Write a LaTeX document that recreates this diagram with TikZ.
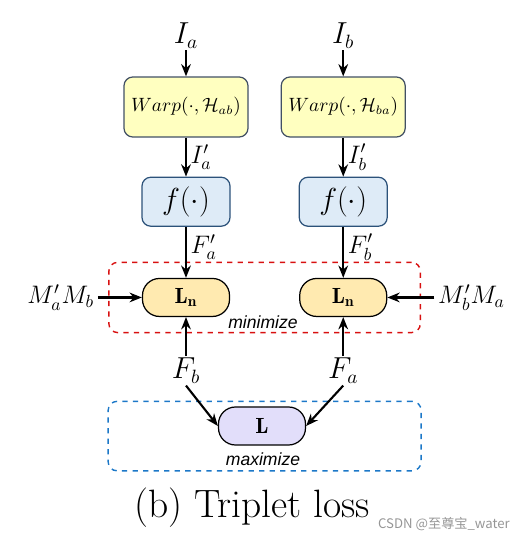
\documentclass[tikz,border=0pt]{standalone}
\usepackage{fontspec}
\usepackage{amsmath}
\usepackage{tikz}
\usetikzlibrary{arrows.meta,positioning,fit,backgrounds}
\newfontfamily\lblfont{Liberation Sans}
\newfontfamily\cjkfont{Noto Sans CJK SC}
\definecolor{warpfill}{RGB}{255,255,192}
\definecolor{warpbdr}{RGB}{66,80,100}
\definecolor{ffill}{RGB}{222,235,247}
\definecolor{fbdr}{RGB}{44,82,122}
\definecolor{lnfill}{RGB}{255,234,176}
\definecolor{lossfill}{RGB}{226,222,250}
\definecolor{minclr}{RGB}{216,16,16}
\definecolor{maxclr}{RGB}{28,120,200}
\definecolor{wmclr}{RGB}{150,150,150}
\tikzset{
  warpblk/.style={rectangle,rounded corners=5pt,draw=warpbdr,fill=warpfill,line width=0.7pt,
    minimum width=2.48cm,minimum height=1.2cm,inner sep=0pt,font=\fontsize{10.5}{12}\selectfont},
  fblk/.style={rectangle,rounded corners=5pt,draw=fbdr,fill=ffill,line width=0.7pt,
    minimum width=1.76cm,minimum height=0.98cm,inner sep=0pt,font=\fontsize{16}{19}\selectfont},
  lnblk/.style={rectangle,rounded corners=0.34cm,draw=black,fill=lnfill,line width=0.7pt,
    minimum width=1.74cm,minimum height=0.76cm,inner sep=0pt,font=\fontsize{12.5}{14}\selectfont},
  lossblk/.style={lnblk,fill=lossfill},
  mlbl/.style={inner sep=1pt,font=\fontsize{16}{19}\selectfont},
  slbl/.style={inner sep=2pt,font=\Large},
  arr/.style={-{Stealth[length=7pt,width=5.5pt]},line width=1.2pt},
  minbx/.style={rectangle,rounded corners=5pt,draw=minclr,dashed,line width=0.8pt},
  maxbx/.style={rectangle,rounded corners=5pt,draw=maxclr,dashed,line width=0.8pt},
  bxlbl/.style={font=\lblfont\itshape\fontsize{10}{12}\selectfont,inner sep=0pt},
}
\begin{document}
\begin{tikzpicture}
  \useasboundingbox (0,0) rectangle (10.5,10.9);
  \node[warpblk] (warpa) at (3.72,8.76) {$Warp(\cdot,\mathcal{H}_{ab})$};
  \node[warpblk,right=0.64cm of warpa] (warpb) {$Warp(\cdot,\mathcal{H}_{ba})$};
  \node[mlbl,above=0.52cm of warpa] (ia) {$I_a$};
  \node[mlbl,above=0.52cm of warpb] (ib) {$I_b$};
  \node[fblk,below=0.78cm of warpa] (fa) {$f(\cdot)$};
  \node[fblk,below=0.78cm of warpb] (fb) {$f(\cdot)$};
  \node[lnblk,below=1.02cm of fa] (lna) {$\mathbf{L_n}$};
  \node[lnblk,below=1.02cm of fb] (lnb) {$\mathbf{L_n}$};
  \node[slbl,left=0.88cm of lna] (mab) {$M_a'M_b$};
  \node[slbl,right=0.94cm of lnb] (mba) {$M_b'M_a$};
  \node[mlbl,below=0.78cm of lna] (featb) {$F_b$};
  \node[mlbl,below=0.78cm of lnb] (feata) {$F_a$};
  \node[lossblk] (loss) at (5.24,2.38) {$\mathbf{L}$};
  \node[bxlbl] (minlbl) at (5.26,4.46) {minimize};
  \node[bxlbl] (maxlbl) at (5.26,1.72) {maximize};
  \node[font=\fontsize{22.5}{26}\selectfont,inner sep=0pt] (cap) at (5.04,0.74) {(b) Triplet loss};
  \node[font=\cjkfont\fontsize{7.5}{9}\selectfont,text=wmclr,inner sep=0pt] (wm) at (8.88,0.42) {CSDN @至尊宝\_water};

  \draw[arr] (ia)--(warpa); \draw[arr] (ib)--(warpb);
  \draw[arr] (warpa)--(fa) node[slbl,midway,right]{$I_a'$};
  \draw[arr] (warpb)--(fb) node[slbl,midway,right]{$I_b'$};
  \draw[arr] (fa)--(lna) node[slbl,midway,right,yshift=3pt]{$F_a'$};
  \draw[arr] (fb)--(lnb) node[slbl,midway,right,yshift=3pt]{$F_b'$};
  \draw[arr] (mab)--(lna); \draw[arr] (mba)--(lnb);
  \draw[arr] (featb)--(lna); \draw[arr] (feata)--(lnb);
  \draw[arr] (featb.south)--(loss.west);
  \draw[arr] (feata.south)--(loss.east);
  \begin{scope}[on background layer]
    \node[minbx,fit=(lna)(lnb),inner xsep=0.66cm,inner ysep=0.31cm] (minbox) {};
    \node[maxbx,fit=(minbox.west |- loss.north)(minbox.east |- maxlbl.south),
          inner xsep=0pt,inner ysep=0.1cm] (maxbox) {};
  \end{scope}
\end{tikzpicture}
\end{document}
